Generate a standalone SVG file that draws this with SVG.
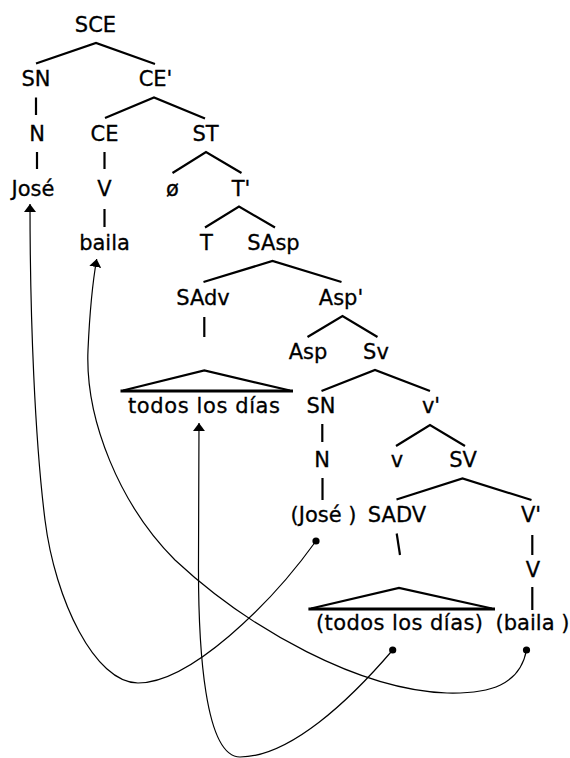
<svg xmlns="http://www.w3.org/2000/svg" width="570" height="758" viewBox="0 0 570 758">
<style>
text{font-family:"DejaVu Sans","Liberation Sans",sans-serif;font-size:21px;fill:#000;stroke:#000;stroke-width:0.3;text-anchor:middle}
.e{stroke:#000;stroke-width:2.2;fill:none;stroke-linecap:butt}
.b{stroke:#000;stroke-width:3;fill:none}
.m{stroke:#000;stroke-width:1.2;fill:none}
.d{fill:#000}
</style>
<defs>
<marker id="arr" viewBox="0 0 8 12" refX="8" refY="6" markerWidth="8" markerHeight="12" orient="auto" markerUnits="userSpaceOnUse">
<path d="M0,0 L8,6 L0,12 z" fill="#000"/>
</marker>
</defs>
<g id="n-SCE"><text x="95.5" y="31.5">SCE</text></g>
<g id="n-SN1"><text x="36" y="86">SN</text></g>
<g id="n-CEbar"><text x="155.5" y="86">CE'</text></g>
<g id="n-N1"><text x="37" y="141">N</text></g>
<g id="n-CE"><text x="104.5" y="141">CE</text></g>
<g id="n-ST"><text x="205.5" y="141">ST</text></g>
<g id="n-Jose"><text x="33" y="195.5">José</text></g>
<g id="n-V1"><text x="104.5" y="195.5">V</text></g>
<g id="n-null"><text x="172.5" y="195.5">ø</text></g>
<g id="n-Tbar"><text x="241" y="195.5">T'</text></g>
<g id="n-baila"><text x="104.5" y="250">baila</text></g>
<g id="n-T"><text x="206.5" y="250">T</text></g>
<g id="n-SAsp"><text x="273.5" y="250">SAsp</text></g>
<g id="n-SAdv"><text x="203" y="305">SAdv</text></g>
<g id="n-Aspbar"><text x="341" y="305">Asp'</text></g>
<g id="n-Asp"><text x="308" y="359">Asp</text></g>
<g id="n-Sv"><text x="376" y="359">Sv</text></g>
<g id="n-todos"><text x="204" y="412.5" textLength="152" lengthAdjust="spacing">todos los días</text></g>
<g id="n-SN2"><text x="321" y="412.5">SN</text></g>
<g id="n-vbar"><text x="431" y="412.5">v'</text></g>
<g id="n-N2"><text x="322" y="467">N</text></g>
<g id="n-v"><text x="397" y="467">v</text></g>
<g id="n-SV"><text x="463" y="467">SV</text></g>
<g id="n-Jose2"><text x="323.5" y="522">(José )</text></g>
<g id="n-SADV"><text x="397" y="522">SADV</text></g>
<g id="n-Vbar"><text x="531" y="522">V'</text></g>
<g id="n-V2"><text x="533" y="577">V</text></g>
<g id="n-todos2"><text x="399.5" y="630" textLength="167" lengthAdjust="spacing">(todos los días)</text></g>
<g id="n-baila2"><text x="532.5" y="630">(baila )</text></g>
<g id="connectors">
<polyline class="e" points="36,63.5 96,43 155,64"/>
<line class="e" x1="36" y1="97.5" x2="36" y2="115"/>
<polyline class="e" points="105,118 154,97.5 205,118.5"/>
<line class="e" x1="37" y1="152" x2="37" y2="169"/>
<line class="e" x1="104.5" y1="152" x2="104.5" y2="169"/>
<polyline class="e" points="172.5,173 206,152 241.5,173"/>
<line class="e" x1="104.5" y1="209" x2="104.5" y2="227"/>
<polyline class="e" points="205,227.5 239,206.5 275,227.5"/>
<polyline class="e" points="203.5,282 272.5,261 341.5,282"/>
<line class="e" x1="204.3" y1="317" x2="204.3" y2="337"/>
<polyline class="e" points="307.5,337 342.5,316 377.5,337"/>
<polyline class="e" points="123,390.5 204.3,370.5 290,390.5"/>
<line class="b" x1="120.5" y1="391" x2="293" y2="391"/>
<polyline class="e" points="321.5,391 375,370 430,391"/>
<line class="e" x1="322.3" y1="424" x2="322.3" y2="442"/>
<polyline class="e" points="396,446 430,425 465,446"/>
<line class="e" x1="322.5" y1="478" x2="322.5" y2="500"/>
<polyline class="e" points="396.5,499.5 462.5,478.5 531.5,500"/>
<line class="e" x1="396.7" y1="533.5" x2="400" y2="555"/>
<line class="e" x1="532.3" y1="535" x2="532.3" y2="555"/>
<line class="e" x1="532.3" y1="587" x2="532.3" y2="610"/>
<polyline class="e" points="311,608.5 399,588 492,608.5"/>
<line class="b" x1="308.4" y1="609" x2="495" y2="609"/>
<path class="m" d="M316,541 C270,605 190,683 138,683 C95,683 55,600 45,520 C35,440 30,320 30,204" marker-end="url(#arr)"/>
<path class="m" d="M526.5,650 C520,685 490,694 447,693 C360,690 250,630 175,560 C120,505 85,420 88,350 C90,305 93,280 96.7,259" marker-end="url(#arr)"/>
<path class="m" d="M392.7,650 C350,700 290,757 240,757 C205,757 198,650 198.5,560 L199,423" marker-end="url(#arr)"/>
<circle class="d" cx="316" cy="541" r="3.6"/>
<circle class="d" cx="392.7" cy="650" r="3.6"/>
<circle class="d" cx="526.5" cy="650" r="3.6"/>
</g>
</svg>
